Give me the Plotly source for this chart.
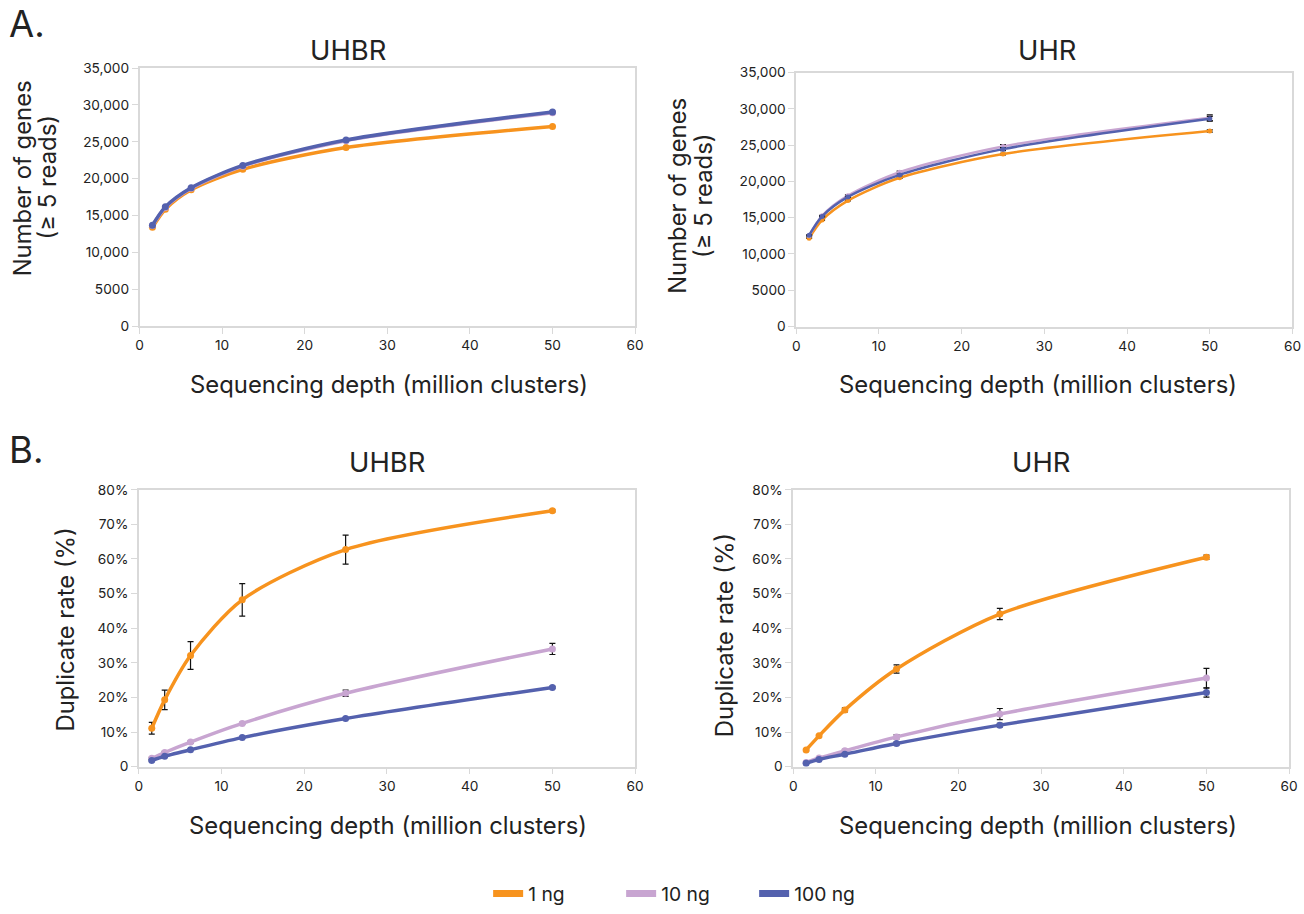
import plotly.graph_objects as go

# ---------------- data ----------------
depth = [1.5625, 3.125, 6.25, 12.5, 25, 50]
series_names = ["1 ng", "10 ng", "100 ng"]
colors = ["#F7931E", "#C8A5D1", "#5461AE"]

# A. number of genes (>= 5 reads)
genes_uhbr_1ng = [13400, 15860, 18500, 21270, 24220, 27080]
genes_uhbr_10ng = [13650, 16100, 18700, 21700, 25150, 28950]
genes_uhbr_100ng = [13700, 16180, 18770, 21800, 25240, 29050]

genes_uhr_1ng = [12180, 14680, 17360, 20500, 23770, 26950]
genes_uhr_10ng = [12500, 15250, 18040, 21270, 24820, 28770]
genes_uhr_100ng = [12590, 15180, 17860, 20900, 24450, 28640]
err_genes_uhr_1ng = [40, 50, 60, 80, 100, 150]
err_genes_uhr_10ng = [60, 80, 100, 150, 250, 400]
err_genes_uhr_100ng = [50, 60, 80, 120, 200, 320]

# B. duplicate rate (%)
dup_uhbr_1ng = [11.1, 19.3, 32.1, 48.2, 62.7, 73.9]
dup_uhbr_10ng = [2.4, 4.1, 7.1, 12.5, 21.2, 34.0]
dup_uhbr_100ng = [1.8, 3.0, 4.9, 8.4, 13.9, 22.9]
err_dup_uhbr_1ng = [1.7, 2.8, 4.0, 4.7, 4.2, 0.3]
err_dup_uhbr_10ng = [0.3, 0.3, 0.3, 0.3, 0.9, 1.6]
err_dup_uhbr_100ng = [0.2, 0.2, 0.2, 0.2, 0.2, 0.3]

dup_uhr_1ng = [4.85, 8.9, 16.4, 28.2, 44.1, 60.5]
dup_uhr_10ng = [1.2, 2.5, 4.6, 8.6, 15.2, 25.6]
dup_uhr_100ng = [1.0, 2.1, 3.6, 6.7, 12.0, 21.4]
err_dup_uhr_1ng = [0.3, 0.4, 0.6, 1.2, 1.6, 0.6]
err_dup_uhr_10ng = [0.2, 0.3, 0.4, 0.6, 1.6, 2.8]
err_dup_uhr_100ng = [0.2, 0.2, 0.3, 0.4, 0.5, 1.3]

x_ticks = [0, 10, 20, 30, 40, 50, 60]
genes_ticks = [0, 5000, 10000, 15000, 20000, 25000, 30000, 35000]
genes_ticktext = ["0", "5000", "10,000", "15,000", "20,000", "25,000", "30,000", "35,000"]
dup_ticks = [0, 10, 20, 30, 40, 50, 60, 70, 80]
dup_ticktext = ["0", "10%", "20%", "30%", "40%", "50%", "60%", "70%", "80%"]

W, H = 1304, 914
FONT = "Inter"
AXC = "#d9d9d9"
TXT = "#222222"
FS = 1 / 0.985  # font compensation

fig = go.Figure()

panels = [
    ("x", "y", [genes_uhbr_1ng, genes_uhbr_10ng, genes_uhbr_100ng], None, 3.5, 7),
    ("x2", "y2", [genes_uhr_1ng, genes_uhr_10ng, genes_uhr_100ng],
     [err_genes_uhr_1ng, err_genes_uhr_10ng, err_genes_uhr_100ng], 2.5, 5),
    ("x3", "y3", [dup_uhbr_1ng, dup_uhbr_10ng, dup_uhbr_100ng],
     [err_dup_uhbr_1ng, err_dup_uhbr_10ng, err_dup_uhbr_100ng], 3.5, 7),
    ("x4", "y4", [dup_uhr_1ng, dup_uhr_10ng, dup_uhr_100ng],
     [err_dup_uhr_1ng, err_dup_uhr_10ng, err_dup_uhr_100ng], 3.5, 7),
]

for xa, ya, ys, errs, lw, ms in panels:
    for i in range(3):
        err = None
        if errs is not None:
            err = dict(type="data", array=errs[i], visible=True,
                       color="#111111", thickness=1.2, width=3)
        fig.add_trace(go.Scatter(
            x=depth, y=ys[i], xaxis=xa, yaxis=ya,
            mode="lines+markers",
            line=dict(color=colors[i], width=lw, shape="spline", smoothing=0.8),
            marker=dict(color=colors[i], size=ms),
            error_y=err, showlegend=False, name=series_names[i],
        ))

# legend entries
for i in range(3):
    fig.add_trace(go.Scatter(
        x=[None], y=[None], mode="lines", name=series_names[i],
        line=dict(color=colors[i], width=7), showlegend=True,
    ))

def px_x(p):
    return min(1.0, max(0.0, (p - 6.5) / 0.9875 / W))

def px_y(p):
    return min(1.0, max(0.0, 1 - (p - 7.3) / 0.98 / H))

def xax(domain, anchor):
    return dict(domain=domain, anchor=anchor, range=[0, 60], tickvals=x_ticks,
                showline=True, linecolor=AXC, linewidth=1.5, mirror=True,
                ticks="outside", tickcolor=AXC, ticklen=6, showgrid=False,
                zeroline=False, tickfont=dict(family=FONT, size=13.5 * FS, color=TXT))

def yax(domain, anchor, rng, tv, tt):
    return dict(domain=domain, anchor=anchor, range=rng, tickvals=tv, ticktext=tt,
                showline=True, linecolor=AXC, linewidth=1.5, mirror=True,
                ticks="outside", tickcolor=AXC, ticklen=6, showgrid=False,
                zeroline=False, tickfont=dict(family=FONT, size=13.5 * FS, color=TXT))

fig.update_layout(
    width=W, height=H, margin=dict(l=0, r=0, t=0, b=0),
    paper_bgcolor="white", plot_bgcolor="white",
    font=dict(family=FONT, color=TXT),
    xaxis=xax([px_x(141.7), px_x(636)], "y"),
    yaxis=yax([px_y(329), px_y(68)], "x", [0, 35000], genes_ticks, genes_ticktext),
    xaxis2=xax([px_x(796.7), px_x(1291.7)], "y2"),
    yaxis2=yax([px_y(329.3), px_y(72.6)], "x2", [0, 35000], genes_ticks, genes_ticktext),
    xaxis3=xax([px_x(141), px_x(636)], "y3"),
    yaxis3=yax([px_y(774.3), px_y(494.3)], "x3", [0, 80], dup_ticks, dup_ticktext),
    xaxis4=xax([px_x(793.7), px_x(1288.3)], "y4"),
    yaxis4=yax([px_y(774.3), px_y(494.3)], "x4", [0, 80], dup_ticks, dup_ticktext),
    legend=dict(orientation="h", x=px_x(489.4), xanchor="left", y=px_y(904), yanchor="middle",
                font=dict(family=FONT, size=19 * FS, color=TXT), entrywidth=88,
                bgcolor="rgba(0,0,0,0)"),
)

ann = []
def text(x, y, s, size, angle=0):
    ann.append(dict(x=px_x(x), y=px_y(y), xref="paper", yref="paper", text=s,
                    showarrow=False, textangle=angle, xanchor="center", yanchor="middle",
                    font=dict(family=FONT, size=size * FS, color=TXT)))

text(29, 23, "A.", 36)
text(28, 454, "B.", 36)
text(350, 50, "UHBR", 27)
text(1047, 50, "UHR", 27)
text(389, 466, "UHBR", 27)
text(1041, 466, "UHR", 27)
text(391, 388, "Sequencing depth (million clusters)", 23.5)
text(1038, 388, "Sequencing depth (million clusters)", 23.5)
text(390, 834, "Sequencing depth (million clusters)", 23.5)
text(1038, 834, "Sequencing depth (million clusters)", 23.5)
text(25, 180, "Number of genes", 23.5, -90)
text(50, 179, "(≥ 5 reads)", 23.5, -90)
text(678, 197, "Number of genes", 23.5, -90)
text(704, 197, "(≥ 5 reads)", 23.5, -90)
text(68, 636, "Duplicate rate (%)", 23.5, -90)
text(725, 641, "Duplicate rate (%)", 23.5, -90)
fig.update_layout(annotations=ann)

fig.write_html("out.html")
